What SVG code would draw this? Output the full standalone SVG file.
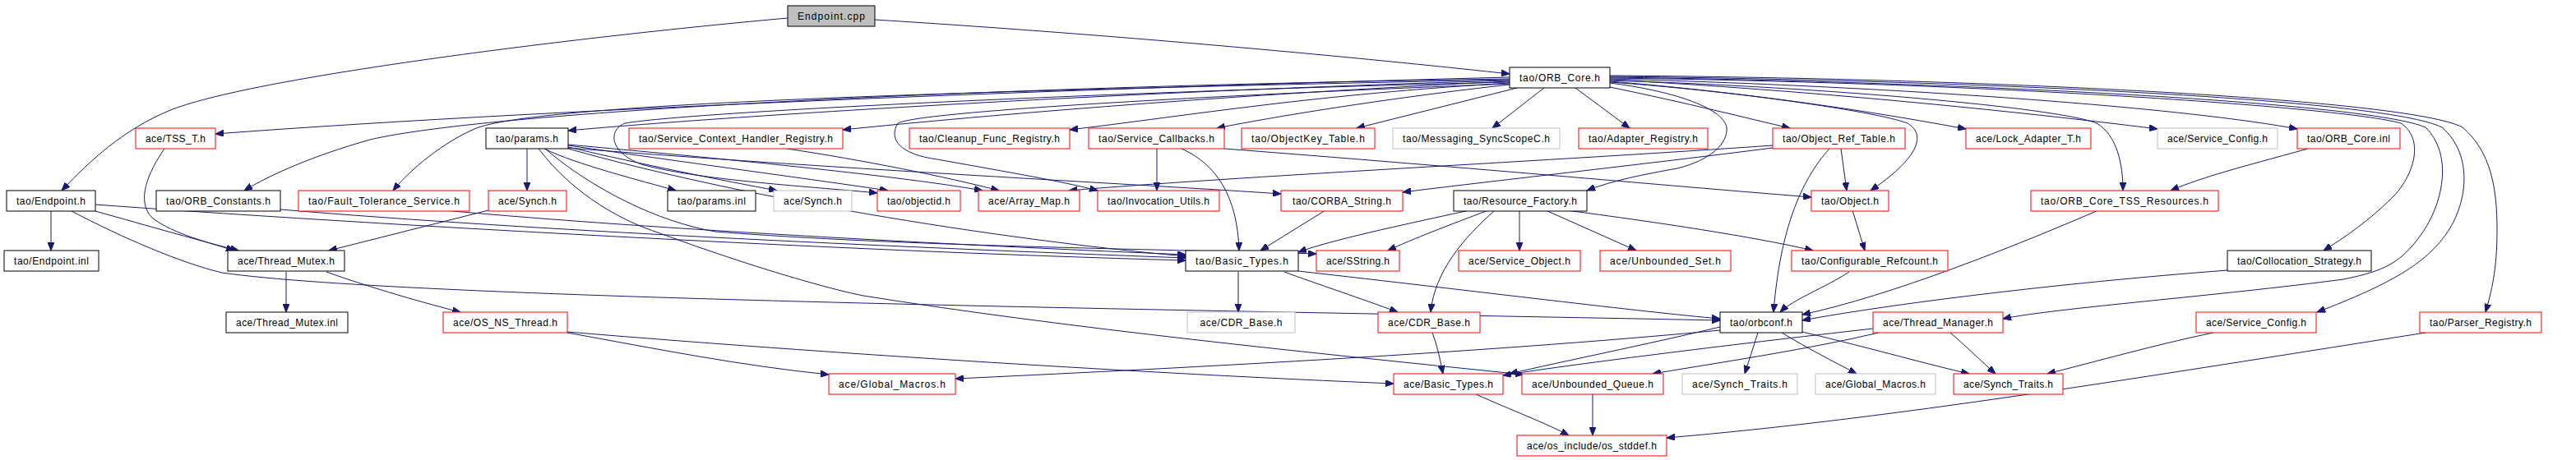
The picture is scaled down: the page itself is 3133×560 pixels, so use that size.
<svg xmlns="http://www.w3.org/2000/svg" width="3133" height="560" viewBox="0 0 3133 560">
<style>
rect{fill:#fff;stroke-width:1}
.k rect{stroke:#000}
.r rect{stroke:#ff0000}
.g rect{stroke:#bfbfbf}
.root rect{fill:#bfbfbf;stroke:#000}
text{font-family:"Liberation Sans",Arial,sans-serif;font-size:12px;fill:#000;text-anchor:middle}
#edges path{fill:none;stroke:#191970;stroke-width:1;marker-end:url(#ah)}
</style>
<defs>
<marker id="ah" markerUnits="userSpaceOnUse" markerWidth="11" markerHeight="8" refX="10" refY="4" orient="auto">
<path d="M0,0 L10,4 L0,8 z" fill="#191970" stroke="#191970"/>
</marker>
</defs>
<rect x="0" y="0" width="3133" height="560" style="stroke:none"/>
<g id="edges">
<path d="M958,22 C700,45 300,95 205,135 C150,158 110,195 75,232"/>
<path d="M1064,24 C1400,45 1700,75 1836,90"/>
<path d="M1836,94 C1400,105 700,130 262,163"/>
<path d="M1836,96 C1200,105 600,135 450,170 C380,190 330,212 297,232"/>
<path d="M1836,97 C1200,110 650,125 577,157 C540,173 500,205 478,232"/>
<path d="M1836,98 C1400,110 900,140 691,159"/>
<path d="M1836,99 C1500,115 1200,140 1025,158"/>
<path d="M1836,100 C1400,110 850,135 760,150 C740,158 740,185 780,200 C850,220 1000,228 1067,235"/>
<path d="M1836,101 C1600,115 1450,140 1301,158"/>
<path d="M1836,102 C1500,115 1120,135 1092,150 C1080,170 1095,188 1140,194 C1200,205 1290,220 1335,232"/>
<path d="M1836,103 C1700,118 1560,140 1480,156"/>
<path d="M1845,107 L1650,156"/>
<path d="M1878,107 L1815,156"/>
<path d="M1916,107 L1982,156"/>
<path d="M1958,106 C2050,125 2130,145 2177,156"/>
<path d="M1958,100 C2100,110 2280,135 2320,150 C2345,165 2330,195 2275,232"/>
<path d="M1958,99 C2150,115 2300,140 2391,157"/>
<path d="M1958,98 C2200,105 2500,130 2550,150 C2575,165 2582,200 2582,232"/>
<path d="M1958,97 C2200,110 2450,135 2624,157"/>
<path d="M1958,96 C2300,105 2650,130 2794,157"/>
<path d="M1958,95 C2400,100 2850,130 2920,150 C2950,170 2935,215 2910,240 C2880,270 2850,290 2826,305"/>
<path d="M1958,94 C2400,100 2880,125 2950,155 C2985,190 2970,250 2945,285 C2920,320 2900,330 2850,340 C2700,360 2500,375 2436,388"/>
<path d="M1958,93 C2400,98 2900,120 2970,155 C3010,190 3000,250 2975,285 C2950,320 2910,345 2818,380"/>
<path d="M1958,92 C2400,95 2930,120 2995,155 C3030,185 3037,230 3037,280 C3037,330 3030,355 3023,380"/>
<path d="M1958,101 C2030,110 2095,130 2100,155 C2102,175 2080,195 2040,205 C2000,212 1960,220 1930,232"/>
<path d="M641,181 L641,232"/>
<path d="M662,181 C700,200 780,220 822,232"/>
<path d="M691,179 C780,200 880,220 945,232"/>
<path d="M691,177 C850,200 1000,220 1080,232"/>
<path d="M691,176 C900,195 1100,215 1195,232"/>
<path d="M691,180 C1000,205 1400,225 1558,236"/>
<path d="M655,181 C700,240 760,270 800,283 C900,320 1000,350 1050,360 C1300,400 1600,430 1853,456"/>
<path d="M663,181 C720,230 800,270 870,282 C1100,300 1400,303 1601,309"/>
<path d="M691,181 C900,240 1200,290 1442,312"/>
<path d="M62,256 L62,305"/>
<path d="M116,257 C180,275 250,295 290,305"/>
<path d="M116,249 C400,270 1000,305 1442,317"/>
<path d="M87,257 C150,290 220,320 270,332 C500,365 1500,378 2092,390"/>
<path d="M200,181 C180,210 165,245 185,265 C210,285 260,297 285,305"/>
<path d="M341,255 C700,285 1200,305 1442,314"/>
<path d="M540,256 C800,280 1200,300 1442,310"/>
<path d="M594,256 L400,305"/>
<path d="M348,331 L348,380"/>
<path d="M397,331 C450,350 520,370 560,380"/>
<path d="M1407,181 L1407,232"/>
<path d="M1437,181 C1480,200 1505,240 1507,305"/>
<path d="M1489,181 C1800,205 2050,228 2203,240"/>
<path d="M957,181 C1050,195 1150,215 1215,232"/>
<path d="M2156,177 C1900,195 1500,215 1300,232"/>
<path d="M2156,180 C2000,200 1800,222 1706,234"/>
<path d="M2239,181 L2246,232"/>
<path d="M2225,181 C2190,220 2165,280 2157,380"/>
<path d="M1612,256 L1533,305"/>
<path d="M1787,256 C1700,275 1620,292 1579,307"/>
<path d="M1810,256 C1760,275 1720,290 1688,305"/>
<path d="M1818,256 C1780,290 1745,330 1740,380"/>
<path d="M1848,256 L1848,305"/>
<path d="M1880,256 L1990,305"/>
<path d="M1905,256 C2050,275 2150,292 2205,305"/>
<path d="M2253,256 L2268,305"/>
<path d="M2249,331 C2220,350 2180,365 2165,380"/>
<path d="M2552,256 C2450,300 2300,360 2192,383"/>
<path d="M2807,181 C2720,205 2680,215 2640,232"/>
<path d="M2709,329 C2500,345 2300,370 2192,390"/>
<path d="M1506,331 L1506,380"/>
<path d="M1562,331 C1600,345 1660,365 1700,380"/>
<path d="M1579,330 C1800,355 2000,380 2092,388"/>
<path d="M1742,405 C1748,420 1752,440 1755,455"/>
<path d="M1795,480 C1840,500 1880,515 1908,530"/>
<path d="M1937,480 L1937,530"/>
<path d="M2950,405 C2600,460 2300,510 2027,533"/>
<path d="M2692,405 C2620,420 2550,440 2490,455"/>
<path d="M2372,405 C2395,425 2410,440 2427,455"/>
<path d="M2278,400 C2100,420 1900,445 1828,457"/>
<path d="M2285,405 C2200,425 2100,440 2010,455"/>
<path d="M2192,404 C2280,425 2350,445 2395,455"/>
<path d="M2138,405 L2122,455"/>
<path d="M2167,405 C2200,425 2230,440 2258,455"/>
<path d="M2092,398 C2000,420 1900,440 1836,455"/>
<path d="M2092,402 C1800,430 1400,450 1162,461"/>
<path d="M690,405 C800,425 900,445 1008,456"/>
<path d="M690,404 C1000,430 1400,455 1695,467"/>
</g>
<g id="n_cpp" class="root"><rect x="958" y="7" width="106" height="25"/><text x="1011" y="24" textLength="82">Endpoint.cpp</text></g>
<g id="n_orbcore" class="k"><rect x="1836" y="82" width="122" height="25"/><text x="1897" y="99" textLength="98">tao/ORB_Core.h</text></g>
<g id="n_tss" class="r"><rect x="165" y="156" width="97" height="25"/><text x="213.5" y="173" textLength="73">ace/TSS_T.h</text></g>
<g id="n_params" class="k"><rect x="591" y="156" width="100" height="25"/><text x="641" y="173" textLength="76">tao/params.h</text></g>
<g id="n_schr" class="r"><rect x="765" y="156" width="260" height="25"/><text x="895" y="173" textLength="236">tao/Service_Context_Handler_Registry.h</text></g>
<g id="n_cleanup" class="r"><rect x="1106" y="156" width="195" height="25"/><text x="1203.5" y="173" textLength="171">tao/Cleanup_Func_Registry.h</text></g>
<g id="n_scb" class="r"><rect x="1324" y="156" width="165" height="25"/><text x="1406.5" y="173" textLength="141">tao/Service_Callbacks.h</text></g>
<g id="n_okt" class="r"><rect x="1510" y="156" width="162" height="25"/><text x="1591" y="173" textLength="138">tao/ObjectKey_Table.h</text></g>
<g id="n_msg" class="g"><rect x="1694" y="156" width="203" height="25"/><text x="1795.5" y="173" textLength="179">tao/Messaging_SyncScopeC.h</text></g>
<g id="n_adreg" class="r"><rect x="1920" y="156" width="157" height="25"/><text x="1998.5" y="173" textLength="133">tao/Adapter_Registry.h</text></g>
<g id="n_ort" class="r"><rect x="2156" y="156" width="161" height="25"/><text x="2236.5" y="173" textLength="137">tao/Object_Ref_Table.h</text></g>
<g id="n_lock" class="r"><rect x="2391" y="156" width="152" height="25"/><text x="2467" y="173" textLength="128">ace/Lock_Adapter_T.h</text></g>
<g id="n_sc_g" class="g"><rect x="2624" y="156" width="146" height="25"/><text x="2697" y="173" textLength="122">ace/Service_Config.h</text></g>
<g id="n_inl" class="r"><rect x="2794" y="156" width="125" height="25"/><text x="2856.5" y="173" textLength="101">tao/ORB_Core.inl</text></g>
<g id="n_eph" class="k"><rect x="8" y="232" width="108" height="25"/><text x="62" y="249" textLength="84">tao/Endpoint.h</text></g>
<g id="n_const" class="k"><rect x="190" y="232" width="151" height="25"/><text x="265.5" y="249" textLength="127">tao/ORB_Constants.h</text></g>
<g id="n_ft" class="r"><rect x="363" y="232" width="208" height="25"/><text x="467" y="249" textLength="184">tao/Fault_Tolerance_Service.h</text></g>
<g id="n_synch_r" class="r"><rect x="594" y="232" width="95" height="25"/><text x="641.5" y="249" textLength="71">ace/Synch.h</text></g>
<g id="n_pinl" class="k"><rect x="812" y="232" width="107" height="25"/><text x="865.5" y="249" textLength="83">tao/params.inl</text></g>
<g id="n_synch_g" class="g"><rect x="941" y="232" width="95" height="25"/><text x="988.5" y="249" textLength="71">ace/Synch.h</text></g>
<g id="n_oid" class="r"><rect x="1067" y="232" width="101" height="25"/><text x="1117.5" y="249" textLength="77">tao/objectid.h</text></g>
<g id="n_amap" class="r"><rect x="1190" y="232" width="123" height="25"/><text x="1251.5" y="249" textLength="99">ace/Array_Map.h</text></g>
<g id="n_iu" class="r"><rect x="1335" y="232" width="148" height="25"/><text x="1409" y="249" textLength="124">tao/Invocation_Utils.h</text></g>
<g id="n_cs" class="r"><rect x="1558" y="232" width="148" height="25"/><text x="1632" y="249" textLength="120">tao/CORBA_String.h</text></g>
<g id="n_rf" class="k"><rect x="1768" y="232" width="162" height="25"/><text x="1849" y="249" textLength="138">tao/Resource_Factory.h</text></g>
<g id="n_obj" class="r"><rect x="2203" y="232" width="94" height="25"/><text x="2250" y="249" textLength="70">tao/Object.h</text></g>
<g id="n_tss_r" class="r"><rect x="2470" y="232" width="228" height="25"/><text x="2584" y="249" textLength="204">tao/ORB_Core_TSS_Resources.h</text></g>
<g id="n_epinl" class="k"><rect x="5" y="305" width="115" height="25"/><text x="62.5" y="322" textLength="91">tao/Endpoint.inl</text></g>
<g id="n_tm" class="k"><rect x="277" y="305" width="142" height="25"/><text x="348" y="322" textLength="118">ace/Thread_Mutex.h</text></g>
<g id="n_tbt" class="k"><rect x="1442" y="305" width="137" height="25"/><text x="1510.5" y="322" textLength="113">tao/Basic_Types.h</text></g>
<g id="n_ss" class="r"><rect x="1601" y="305" width="101" height="25"/><text x="1651.5" y="322" textLength="77">ace/SString.h</text></g>
<g id="n_so" class="r"><rect x="1774" y="305" width="148" height="25"/><text x="1848" y="322" textLength="124">ace/Service_Object.h</text></g>
<g id="n_us" class="r"><rect x="1946" y="305" width="159" height="25"/><text x="2025.5" y="322" textLength="135">ace/Unbounded_Set.h</text></g>
<g id="n_cr" class="r"><rect x="2179" y="305" width="190" height="25"/><text x="2274" y="322" textLength="166">tao/Configurable_Refcount.h</text></g>
<g id="n_col" class="k"><rect x="2709" y="305" width="175" height="25"/><text x="2796.5" y="322" textLength="151">tao/Collocation_Strategy.h</text></g>
<g id="n_tminl" class="k"><rect x="275" y="380" width="148" height="25"/><text x="349" y="397" textLength="124">ace/Thread_Mutex.inl</text></g>
<g id="n_osnt" class="r"><rect x="539" y="380" width="151" height="25"/><text x="614.5" y="397" textLength="127">ace/OS_NS_Thread.h</text></g>
<g id="n_cdr_g" class="g"><rect x="1444" y="380" width="131" height="25"/><text x="1509.5" y="397" textLength="100">ace/CDR_Base.h</text></g>
<g id="n_cdr_r" class="r"><rect x="1676" y="380" width="124" height="25"/><text x="1738" y="397" textLength="100">ace/CDR_Base.h</text></g>
<g id="n_orbconf" class="k"><rect x="2092" y="380" width="100" height="25"/><text x="2142" y="397" textLength="76">tao/orbconf.h</text></g>
<g id="n_tmgr" class="r"><rect x="2278" y="380" width="158" height="25"/><text x="2357" y="397" textLength="134">ace/Thread_Manager.h</text></g>
<g id="n_sc_r" class="r"><rect x="2671" y="380" width="146" height="25"/><text x="2744" y="397" textLength="122">ace/Service_Config.h</text></g>
<g id="n_pr" class="r"><rect x="2943" y="380" width="148" height="25"/><text x="3017" y="397" textLength="124">tao/Parser_Registry.h</text></g>
<g id="n_gm_r" class="r"><rect x="1008" y="455" width="154" height="25"/><text x="1085" y="472" textLength="130">ace/Global_Macros.h</text></g>
<g id="n_abt" class="r"><rect x="1695" y="455" width="133" height="25"/><text x="1761.5" y="472" textLength="109">ace/Basic_Types.h</text></g>
<g id="n_uq" class="r"><rect x="1851" y="455" width="172" height="25"/><text x="1937" y="472" textLength="148">ace/Unbounded_Queue.h</text></g>
<g id="n_st_g" class="g"><rect x="2046" y="455" width="140" height="25"/><text x="2116" y="472" textLength="116">ace/Synch_Traits.h</text></g>
<g id="n_gm_g" class="g"><rect x="2208" y="455" width="146" height="25"/><text x="2281" y="472" textLength="122">ace/Global_Macros.h</text></g>
<g id="n_st_r" class="r"><rect x="2376" y="455" width="133" height="25"/><text x="2442.5" y="472" textLength="109">ace/Synch_Traits.h</text></g>
<g id="n_os" class="r"><rect x="1845" y="530" width="182" height="25"/><text x="1936" y="547" textLength="158">ace/os_include/os_stddef.h</text></g>
</svg>
